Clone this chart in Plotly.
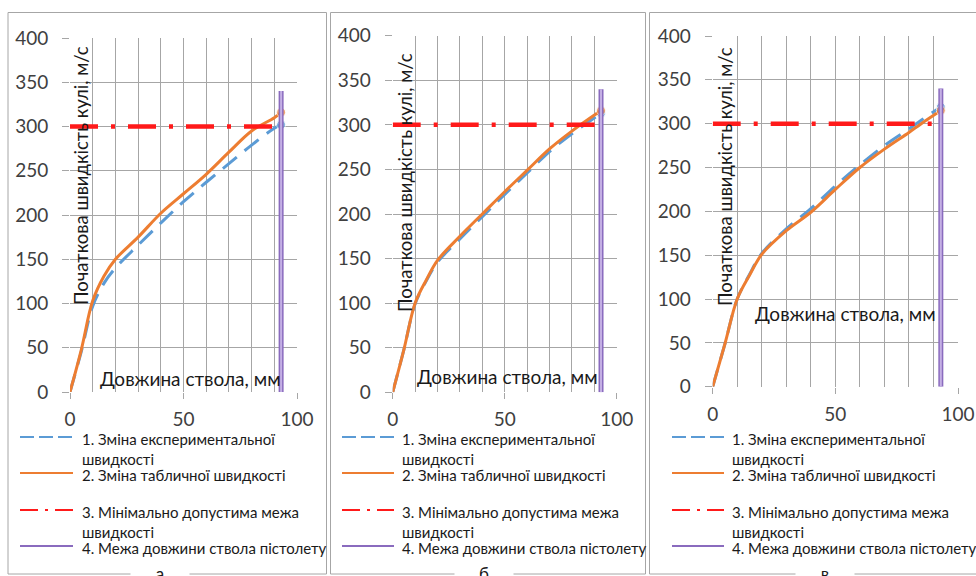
import plotly.graph_objects as go

W, H = 976, 576

# ---------------- data ----------------
x_a = [0, 5, 10, 15, 20, 30, 40, 50, 60, 70, 80, 90, 93]
exp_a = [0, 46, 97, 123, 140, 166, 191, 215, 237, 258, 279, 298, 302]
tab_a = [0, 48, 103, 131, 150, 175, 202, 224, 246, 271, 295, 310, 316]

x_b = [0, 5, 10, 15, 20, 30, 40, 50, 60, 70, 80, 93]
exp_b = [0, 48, 99, 125, 146, 172, 197, 222, 246, 270, 290, 313]
tab_b = [0, 48, 100, 126, 148, 175, 200, 225, 249, 273, 293, 316]

x_c = [0, 5, 10, 15, 20, 30, 40, 50, 60, 70, 80, 85, 93]
exp_c = [0, 49, 100, 128, 152, 180, 203, 229, 253, 275, 294, 304, 319]
tab_c = [0, 49, 100, 127, 151, 178, 199, 225, 250, 271, 290, 300, 315]

limit_x = [0, 91]
limit_y = [300, 300]
barrel_x = [93, 93]
barrel_y = [0, 340]

x_ticks = [0, 50, 100]
y_ticks = [0, 50, 100, 150, 200, 250, 300, 350, 400]

names = ["1. Зміна експериментальної<br>швидкості",
         "2. Зміна табличної швидкості",
         "3. Мінімально допустима межа<br>швидкості",
         "4. Межа довжини ствола пістолету"]
y_title = "Початкова швидкість кулі, м/с"
x_title = "Довжина ствола, мм"
panel_labels = ["а", "б", "в"]

# ---------------- styling ----------------
BLUE = "#5B9BD5"
ORANGE = "#ED7D31"
RED = "#FF1A1A"
PURPLE = "#8A6BBE"
PURPLE_L = "#C4B0E4"
GRID = "#A6A6A6"
FONT = "Lato"
TXT = "#1a1a1a"

def px(v): return v / W
def py(v): return 1 - v / H

panels = [
    dict(x=x_a, exp=exp_a, tab=tab_a, xd=(70, 297), yd=(38, 392),
         box=(8, 326.5), leg=(20, 73, 80), ytl=(81, 176), xtl=(190, 378), lab=160),
    dict(x=x_b, exp=exp_b, tab=tab_b, xd=(392.7, 616.7), yd=(35.7, 392.3),
         box=(330.5, 645.5), leg=(342, 394, 400), ytl=(405, 183), xtl=(507, 376), lab=484),
    dict(x=x_c, exp=exp_c, tab=tab_c, xd=(712.7, 958), yd=(36, 386.7),
         box=(649.5, 990), leg=(672, 724, 730), ytl=(725, 177), xtl=(845, 313), lab=825),
]
# legend rows (pixel y of first text line) and sample styles
leg_rows = [437, 473, 510, 546]
leg_cols = [BLUE, ORANGE, RED, PURPLE]
leg_dash = ["14px,5px", "solid", "18px,7px,3px,7px", "solid"]

fig = go.Figure()
layout = dict(width=W, height=H, margin=dict(l=0, r=0, t=0, b=0, autoexpand=False),
              paper_bgcolor="white", plot_bgcolor="white", showlegend=False,
              font=dict(family=FONT, color="#262626"))
shapes, annots = [], []

for i, p in enumerate(panels):
    k = "" if i == 0 else str(i + 1)
    xa, ya = "x" + k, "y" + k
    n = len(p["x"])
    # experimental
    fig.add_trace(go.Scatter(x=p["x"], y=p["exp"], xaxis=xa, yaxis=ya, mode="lines+markers",
                             name=names[0],
                             line=dict(color=BLUE, width=3, dash="18px,10px",
                                       shape="spline", smoothing=1.0),
                             marker=dict(size=[0] * (n - 1) + [9], color=BLUE)))
    # table
    fig.add_trace(go.Scatter(x=p["x"], y=p["tab"], xaxis=xa, yaxis=ya, mode="lines+markers",
                             name=names[1],
                             line=dict(color=ORANGE, width=3, shape="spline", smoothing=1.0),
                             marker=dict(size=[0] * (n - 1) + [9], color=ORANGE)))
    # minimal limit
    fig.add_trace(go.Scatter(x=limit_x, y=limit_y, xaxis=xa, yaxis=ya, mode="lines",
                             name=names[2],
                             line=dict(color=RED, width=4.5, dash="28px,13px,4px,13px")))
    # barrel length
    fig.add_trace(go.Scatter(x=barrel_x, y=barrel_y, xaxis=xa, yaxis=ya, mode="lines",
                             name=names[3], line=dict(color=PURPLE, width=5)))
    fig.add_trace(go.Scatter(x=barrel_x, y=barrel_y, xaxis=xa, yaxis=ya, mode="lines",
                             name=names[3], line=dict(color=PURPLE_L, width=2)))

    axcommon = dict(showline=False, zeroline=False, showgrid=True, gridcolor=GRID, gridwidth=1,
                    tickfont=dict(family=FONT, size=19, color="#404040"), fixedrange=True)
    layout["xaxis" + k] = dict(axcommon, domain=[px(p["xd"][0]), px(p["xd"][1])], range=[0, 100],
                               tickvals=x_ticks, ticks="outside", ticklen=6, tickcolor=GRID,
                               ticklabelstandoff=4, anchor=ya,
                               minor=dict(dtick=10, tick0=0, showgrid=True, gridcolor=GRID))
    layout["yaxis" + k] = dict(axcommon, domain=[py(p["yd"][1]), py(p["yd"][0])], range=[0, 400],
                               tickvals=y_ticks, ticks="outside", ticklen=7, tickcolor=GRID,
                               ticklabelstandoff=10, anchor=xa)

    # panel frame
    shapes.append(dict(type="rect", xref="paper", yref="paper", x0=px(p["box"][0]),
                       x1=px(p["box"][1]), y0=py(574), y1=py(12.5),
                       line=dict(color=GRID, width=1), layer="below"))
    # axis titles inside plot
    annots.append(dict(text=y_title, xref="paper", yref="paper", x=px(p["ytl"][0]),
                       y=py(p["ytl"][1]), xanchor="center", yanchor="middle",
                       textangle=-90, showarrow=False,
                       font=dict(family=FONT, size=18.5, color=TXT)))
    annots.append(dict(text=x_title, xref="paper", yref="paper", x=px(p["xtl"][0]),
                       y=py(p["xtl"][1]), xanchor="center", yanchor="middle", showarrow=False,
                       font=dict(family=FONT, size=19, color=TXT)))
    # legend (manual)
    l0, l1, tx = p["leg"]
    for r, nm, col, dash in zip(leg_rows, names, leg_cols, leg_dash):
        shapes.append(dict(type="line", xref="paper", yref="paper", x0=px(l0), x1=px(l1),
                           y0=py(r), y1=py(r), line=dict(color=col, width=2, dash=dash)))
        annots.append(dict(text=nm, xref="paper", yref="paper", x=px(tx), y=py(r - 9),
                           xanchor="left", yanchor="top", align="left", showarrow=False,
                           font=dict(family=FONT, size=15, color=TXT)))
    # panel letter on the bottom border
    annots.append(dict(text=panel_labels[i], xref="paper", yref="paper", x=px(p["lab"]),
                       y=py(561), yanchor="top", xanchor="center", showarrow=False,
                       bgcolor="white", width=56,
                       font=dict(family=FONT, size=17, color=TXT)))

layout["shapes"] = shapes
layout["annotations"] = annots
fig.update_layout(**layout)
fig.write_html("out.html", config={"displayModeBar": False},
               post_script="document.body.style.margin='0';")
